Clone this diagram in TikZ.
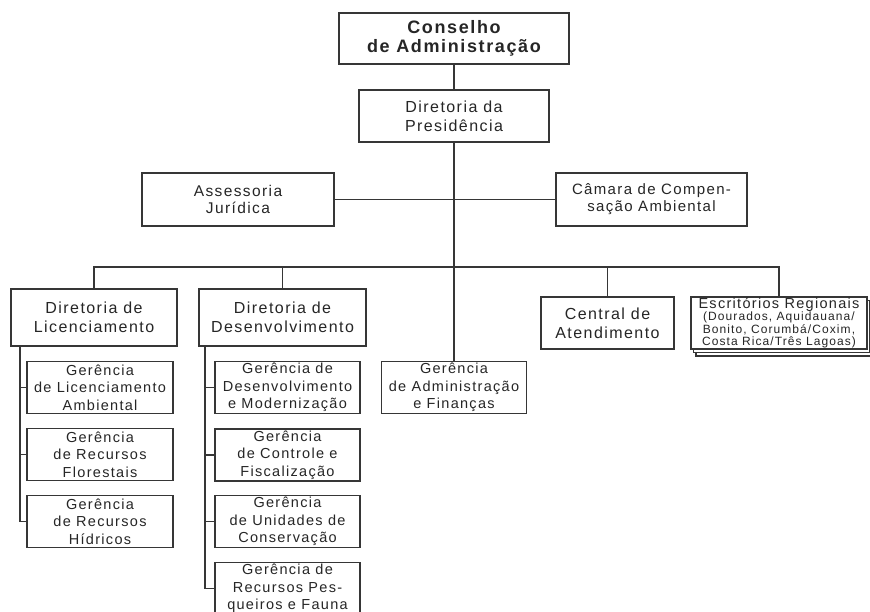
\documentclass[tikz,border=0pt]{standalone}
\usepackage{fontspec}
\setmainfont{Liberation Sans}[LetterSpace=9]
\usetikzlibrary{shadows}
\definecolor{linegray}{HTML}{363636}
\definecolor{textgray}{HTML}{262626}

\begin{document}
\begin{tikzpicture}[x=1pt,y=-1pt,
  box/.style={draw=linegray,line width=1.5pt,fill=white,align=center,text=textgray,inner sep=0pt},
  topbox/.style={box,font=\fontsize{18}{19.5}\selectfont\bfseries,line width=1.7pt},
  dirbox/.style={box,font=\fontsize{16}{19}\selectfont},
  gerbox/.style={box,font=\fontsize{14.5}{17.5}\selectfont,minimum width=146pt,minimum height=52pt},
  link/.style={draw=linegray,line width=1.5pt}]
\useasboundingbox (0,0) rectangle (870,612);

\node[topbox,minimum width=230pt,minimum height=51pt] (cons) at (454,38.5) {Conselho\\de Administração};
\node[dirbox,minimum width=190pt,minimum height=52pt] (pres) at (454,116) {Diretoria da\\Presidência};
\node[dirbox,font=\fontsize{15.5}{17}\selectfont,minimum width=192pt,minimum height=53pt] (asse) at (238,199.5) {Assessoria\\Jurídica};
\node[dirbox,font=\fontsize{15}{17}\selectfont,minimum width=191pt,minimum height=53pt] (cama) at (651.5,199.5) {Câmara de Compen-\\sação Ambiental};

\node[dirbox,minimum width=166pt,minimum height=57pt] (dlic) at (94,317.5) {Diretoria de\\Licenciamento};
\node[dirbox,minimum width=167pt,minimum height=57pt] (ddes) at (282.5,317.5) {Diretoria de\\Desenvolvimento};
\node[gerbox,minimum width=145pt] (gadm) at (454,387.5) {Gerência\\de Administração\\e Finanças};
\node[dirbox,minimum width=133pt,minimum height=52pt] (cent) at (607.5,323) {Central de\\Atendimento};
\node[dirbox,font=\fontsize{12}{12.5}\selectfont,minimum width=176pt,minimum height=52pt,
  double copy shadow={shadow xshift=2.5pt,shadow yshift=-3.5pt}] (escr) at (779,323)
  {\fontsize{14.5}{13}\selectfont Escritórios Regionais\\(Dourados, Aquidauana/\\Bonito, Corumbá/Coxim,\\Costa Rica/Três Lagoas)};

\node[gerbox] (glic) at (100,387.5) {Gerência\\de Licenciamento\\Ambiental};
\node[gerbox] (gflo) at (100,454.5) {Gerência\\de Recursos\\Florestais};
\node[gerbox] (ghid) at (100,521.5) {Gerência\\de Recursos\\Hídricos};

\node[gerbox,minimum width=145pt] (gdes) at (287.5,387.5) {Gerência de\\Desenvolvimento\\e Modernização};
\node[gerbox,minimum width=145pt] (gcon) at (287.5,455) {Gerência\\de Controle e\\Fiscalização};
\node[gerbox,minimum width=145pt] (guni) at (287.5,521.5) {Gerência\\de Unidades de\\Conservação};
\node[gerbox,minimum width=145pt] (gpes) at (287.5,588.5) {Gerência de\\Recursos Pes-\\queiros e Fauna};

\coordinate (bus) at (454,267);
\coordinate (slic) at (20,346);
\coordinate (sdes) at (205,346);

\draw[link] (cons) -- (pres);
\draw[link] (pres) -- (gadm);
\draw[link] (asse) -- (cama);
\draw[link] (dlic.north) -- (dlic.north |- bus) -| (escr.north);
\draw[link] (ddes.north) -- (ddes.north |- bus);
\draw[link] (cent.north) -- (cent.north |- bus);
\draw[link] (slic) |- (glic.west);
\draw[link] (slic) |- (gflo.west);
\draw[link] (slic) |- (ghid.west);
\draw[link] (sdes) |- (gdes.west);
\draw[link] (sdes) |- (gcon.west);
\draw[link] (sdes) |- (guni.west);
\draw[link] (sdes) |- (gpes.west);
\end{tikzpicture}
\end{document}
